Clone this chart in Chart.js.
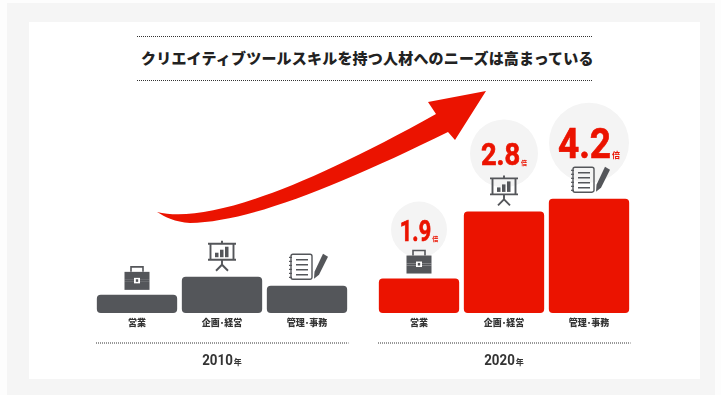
<!DOCTYPE html>
<html lang="ja">
<head>
<meta charset="utf-8">
<title>クリエイティブツールスキル</title>
<script src="https://cdn.jsdelivr.net/npm/chart.js@4"></script>
<style>
html, body { margin: 0; padding: 0; background: #fdfdfd; }
#page { position: relative; width: 721px; height: 395px; overflow: hidden; }
#bg { position: absolute; left: 7px; top: 3px; width: 708px; height: 392px; background: #f5f5f5; }
#panel { position: absolute; left: 29px; top: 22px; width: 671px; height: 357px; background: #fff; }
#heading {
    position: absolute; left: 137px; top: 36px; width: 455px; height: 43px; margin: 0;
    border-top: 1px dotted #333; border-bottom: 1px dotted #333;
    font: 900 15px "Noto Sans CJK JP"; line-height: 42px; letter-spacing: 0.2px; text-indent: 4px; white-space: nowrap; text-align: left; color: #222;
}
canvas { position: absolute; }
#arrow { position: absolute; left: 0; top: 0; }
</style>
</head>
<body>
<div id="page">
    <div id="bg"></div>
    <div id="panel"></div>
    <h1 id="heading">クリエイティブツールスキルを持つ人材へのニーズは高まっている</h1>
    <svg id="arrow" width="721" height="395">
        <path fill="#eb1300" d="M157,212 C205,224 300,190 436,114 L428,102 L486,91 L455,140 L448,132 C340,185 250,222 190,223 C175,222 165,217 157,212 Z"/>
    </svg>
    <canvas id="chart2010" width="275" height="290" style="left:85px;top:90px"></canvas>
    <canvas id="chart2020" width="275" height="290" style="left:367px;top:90px"></canvas>
</div>
<script>
// Data
var categories = ["営業", "企画･経営", "管理･事務"];
var values2010 = [1, 2, 1.5];
var values2020 = [1.9, 5.6, 6.3];
var multiples = ["1.9", "2.8", "4.2"];

var RED = "#eb1300";
var GRAY = "#54565a";

// Icons, drawn around (0,0) = bottom centre of the icon
function drawBriefcase(ctx) {
    ctx.fillStyle = GRAY;
    ctx.strokeStyle = GRAY;
    ctx.lineWidth = 1.6;
    ctx.beginPath();
    ctx.moveTo(-6, -18); ctx.lineTo(-6, -23); ctx.lineTo(6, -23); ctx.lineTo(6, -18);
    ctx.stroke();
    ctx.fillRect(-12.5, -18, 25, 8);
    ctx.fillRect(-12.5, -8, 25, 8);
    ctx.beginPath();
    ctx.moveTo(-12.5, -10); ctx.lineTo(12.5, -10); ctx.lineTo(12.5, -8); ctx.lineTo(-12.5, -8);
    ctx.closePath();
    ctx.fill();
    ctx.fillStyle = "#fff";
    ctx.fillRect(-3, -12, 6, 5.5);
    ctx.fillStyle = GRAY;
    ctx.fillRect(-1.2, -10.6, 2.4, 2.6);
}

function drawBoard(ctx) {
    ctx.strokeStyle = GRAY;
    ctx.fillStyle = GRAY;
    ctx.lineWidth = 1.9;
    ctx.beginPath();
    ctx.moveTo(-14, -28); ctx.lineTo(14, -28);
    ctx.moveTo(-14, -12); ctx.lineTo(14, -12);
    ctx.moveTo(-11.5, -28); ctx.lineTo(-11.5, -12);
    ctx.moveTo(11.5, -28); ctx.lineTo(11.5, -12);
    ctx.moveTo(0, -31); ctx.lineTo(0, -28);
    ctx.moveTo(0, -12); ctx.lineTo(0, -7);
    ctx.moveTo(-6, -1); ctx.lineTo(0, -7); ctx.lineTo(6, -1);
    ctx.stroke();
    ctx.fillRect(-7, -19, 3.5, 4.5);
    ctx.fillRect(-2, -22, 3.5, 7.5);
    ctx.fillRect(3, -25, 3.5, 10.5);
}

function drawNotebook(ctx) {
    ctx.strokeStyle = GRAY;
    ctx.fillStyle = GRAY;
    ctx.lineWidth = 1.4;
    ctx.beginPath();
    ctx.roundRect(-16, -25.5, 21, 25, 2);
    ctx.stroke();
    ctx.beginPath();
    var y;
    for (y = -20; y <= -5; y += 5) {
        ctx.moveTo(-11, y); ctx.lineTo(1, y);
    }
    ctx.stroke();
    for (y = -23; y <= -2; y += 4) {
        ctx.fillRect(-18, y, 3, 1.2);
    }
    ctx.beginPath();
    ctx.moveTo(16, -26); ctx.lineTo(21, -23); ctx.lineTo(12, -5);
    ctx.lineTo(7, -1); ctx.lineTo(7.5, -8);
    ctx.closePath();
    ctx.fill();
}

var icons = [drawBriefcase, drawBoard, drawNotebook];
var iconGaps = [5, 5, 6];

// bubble settings for the 2020 side
var bubbleRadius = [28, 34, 40];
var bubbleLift = [49, 58, 56];
var numberSize = [29, 31, 43];
var numberBase = [38, 46, 41];
var numberSquash = [0.75, 0.88, 0.86]; // reference numerals are a condensed face

var iconPlugin = {
    id: "iconPlugin",
    beforeDatasetsDraw: function (chart, args, opts) {
        var ctx = chart.ctx;
        var bars = chart.getDatasetMeta(0).data;
        if (!opts.bubbles) return;
        bars.forEach(function (bar, i) {
            ctx.save();
            ctx.fillStyle = "#f4f4f4";
            ctx.beginPath();
            ctx.arc(bar.x, bar.y - bubbleLift[i], bubbleRadius[i], 0, Math.PI * 2);
            ctx.fill();
            ctx.restore();
        });
    },
    afterDatasetsDraw: function (chart, args, opts) {
        var ctx = chart.ctx;
        var bars = chart.getDatasetMeta(0).data;
        bars.forEach(function (bar, i) {
            ctx.save();
            ctx.translate(bar.x, bar.y - iconGaps[i]);
            icons[i](ctx);
            ctx.restore();
            if (opts.bubbles) {
                ctx.save();
                ctx.fillStyle = RED;
                ctx.strokeStyle = RED;
                ctx.lineWidth = 0.7;
                ctx.textBaseline = "alphabetic";
                ctx.font = "700 " + numberSize[i] + "px Roboto";
                var w = ctx.measureText(multiples[i]).width * numberSquash[i];
                var unitSize = i == 2 ? 8 : 6;
                var x = bar.x - (w + unitSize + 1) / 2;
                var y = bar.y - numberBase[i];
                ctx.save();
                ctx.translate(x, y);
                ctx.scale(numberSquash[i], 1);
                ctx.fillText(multiples[i], 0, 0);
                ctx.strokeText(multiples[i], 0, 0);
                ctx.restore();
                ctx.font = "700 " + unitSize + "px 'Noto Sans CJK JP'";
                ctx.fillText("倍", x + w + 1, y);
                ctx.restore();
            }
        });
    },
    afterDraw: function (chart, args, opts) {
        var ctx = chart.ctx;
        var a = chart.chartArea;
        // dotted rule and year under the group
        ctx.save();
        ctx.strokeStyle = "#333";
        ctx.lineWidth = 1;
        ctx.setLineDash([1, 1]);
        ctx.beginPath();
        ctx.moveTo(a.left + 1.5, a.bottom + 30);
        ctx.lineTo(a.right - 1, a.bottom + 30);
        ctx.stroke();
        ctx.setLineDash([]);
        ctx.fillStyle = "#333";
        ctx.textBaseline = "alphabetic";
        ctx.font = "700 14px Roboto";
        var squash = 0.95;
        var w = ctx.measureText(opts.year).width * squash;
        var x = (a.left + a.right) / 2 - (w + 9) / 2;
        ctx.save();
        ctx.translate(x, a.bottom + 52);
        ctx.scale(squash, 1);
        ctx.fillText(opts.year, 0, 0);
        ctx.restore();
        ctx.font = "700 8px 'Noto Sans CJK JP'";
        ctx.fillText("年", x + w + 1, a.bottom + 52);
        ctx.restore();
    }
};

function makeChart(id, values, color, year, bubbles) {
    return new Chart(document.getElementById(id).getContext("2d"), {
        type: "bar",
        data: {
            labels: categories,
            datasets: [{
                data: values,
                backgroundColor: color,
                borderRadius: 4,
                borderSkipped: false,
                barPercentage: 1,
                categoryPercentage: 0.945
            }]
        },
        options: {
            responsive: false,
            animation: false,
            layout: { padding: { left: 9.5, right: 10.5, top: 96, bottom: 0 } },
            plugins: {
                legend: { display: false },
                tooltip: { enabled: false },
                iconPlugin: { year: year, bubbles: bubbles }
            },
            scales: {
                x: {
                    grid: { display: false },
                    border: { display: false },
                    afterFit: function (scale) { scale.height = 67; },
                    ticks: {
                        color: "#333",
                        padding: -4,
                        maxRotation: 0,
                        font: { family: "'Noto Sans CJK JP'", size: 9, weight: "900" }
                    }
                },
                y: { display: false, min: 0, max: 7 }
            }
        },
        plugins: [iconPlugin]
    });
}

var chart2010 = makeChart("chart2010", values2010, GRAY, "2010", false);
var chart2020 = makeChart("chart2020", values2020, RED, "2020", true);
</script>
</body>
</html>
